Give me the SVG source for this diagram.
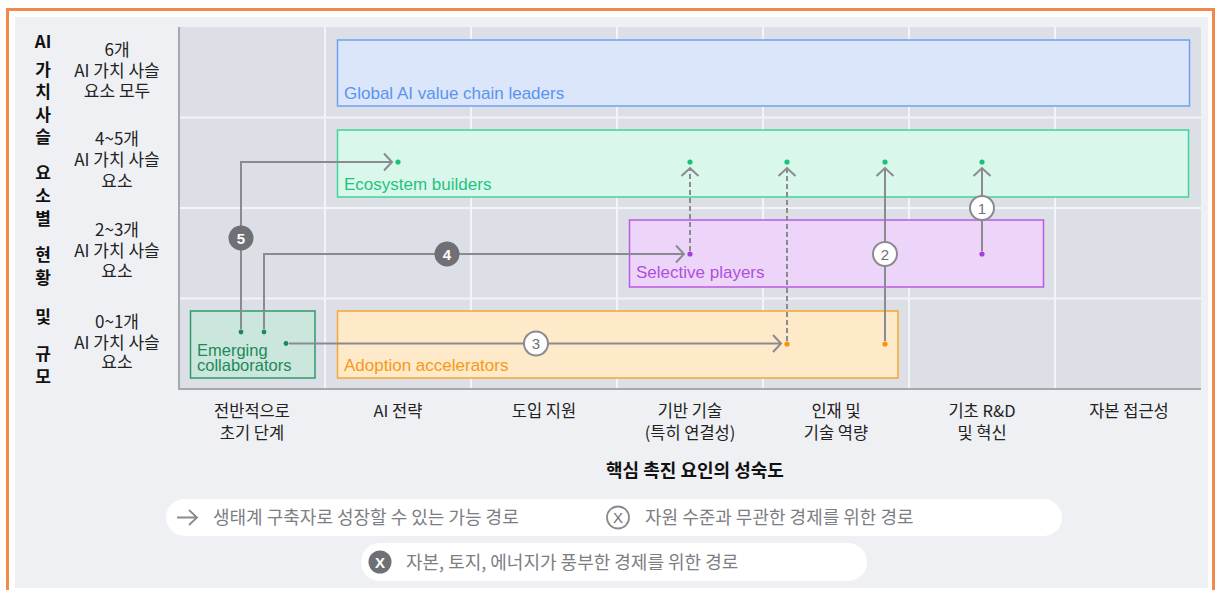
<svg xmlns="http://www.w3.org/2000/svg" width="1217" height="590" viewBox="0 0 1217 590">
<defs>
<style>
.ttl{font-family:"Noto Sans CJK KR",sans-serif;font-size:17px;font-weight:bold;fill:#111;text-anchor:middle;}
.rowl{font-family:"Noto Sans CJK KR",sans-serif;font-size:17px;fill:#222;text-anchor:middle;}
.coll{font-family:"Noto Sans CJK KR",sans-serif;font-size:16.5px;fill:#222;text-anchor:middle;}
.axt{font-family:"Noto Sans CJK KR",sans-serif;font-size:18px;font-weight:bold;fill:#111;text-anchor:middle;}
.leg{font-family:"Noto Sans CJK KR",sans-serif;font-size:18px;fill:#7d7e84;}
.bl{font-family:"Liberation Sans",Arial,sans-serif;font-size:17px;}
.grid{stroke:#f3f4f7;stroke-width:2;}
.con{fill:none;stroke:#8a8b90;stroke-width:2;}
.dash{stroke-dasharray:5 3;}
.bw{fill:#fff;stroke:#8a8b90;stroke-width:2;}
.bd{fill:#6f7076;}
.bn{font-family:"Liberation Sans",Arial,sans-serif;font-size:15px;text-anchor:middle;}
</style>
<marker id="chev" markerUnits="userSpaceOnUse" markerWidth="14" markerHeight="20" viewBox="0 0 14 20" refX="9" refY="10" orient="auto">
<path d="M1,1.5 L9,10 L1,18.5" fill="none" stroke="#8a8b90" stroke-width="2"/>
</marker>
</defs>

<!-- background -->
<rect x="0" y="0" width="1217" height="590" fill="#ffffff"/>
<path d="M7.5,600 L7.5,9.5 L1213.5,9.5 L1213.5,600" fill="none" stroke="#f08a4b" stroke-width="3"/>
<rect x="15" y="17" width="1193" height="571" fill="#eff0f4"/>

<!-- plot area -->
<g id="plot">
<rect x="179" y="27" width="1022" height="362" fill="#dcdfe6"/>
<line class="grid" x1="325" y1="27" x2="325" y2="389"/>
<line class="grid" x1="471" y1="27" x2="471" y2="389"/>
<line class="grid" x1="617" y1="27" x2="617" y2="389"/>
<line class="grid" x1="763" y1="27" x2="763" y2="389"/>
<line class="grid" x1="909" y1="27" x2="909" y2="389"/>
<line class="grid" x1="1055" y1="27" x2="1055" y2="389"/>
<line class="grid" x1="179" y1="117.5" x2="1201" y2="117.5"/>
<line class="grid" x1="179" y1="208" x2="1201" y2="208"/>
<line class="grid" x1="179" y1="298.5" x2="1201" y2="298.5"/>
<path d="M179,27 L179,389 L1201,389" fill="none" stroke="#a6a8ae" stroke-width="2"/>
</g>

<!-- title -->
<g id="y-title">
<text class="ttl" x="43" y="48">AI</text>
<text class="ttl" x="43" y="76">가</text>
<text class="ttl" x="43" y="98">치</text>
<text class="ttl" x="43" y="121">사</text>
<text class="ttl" x="43" y="143">슬</text>
<text class="ttl" x="43" y="179">요</text>
<text class="ttl" x="43" y="202">소</text>
<text class="ttl" x="43" y="225">별</text>
<text class="ttl" x="43" y="261">현</text>
<text class="ttl" x="43" y="284">황</text>
<text class="ttl" x="43" y="323">및</text>
<text class="ttl" x="43" y="360">규</text>
<text class="ttl" x="43" y="383">모</text>
</g>

<g id="row-labels">
<text class="rowl" x="117" y="56">6개</text>
<text class="rowl" x="117" y="77">AI 가치 사슬</text>
<text class="rowl" x="117" y="97">요소 모두</text>
<text class="rowl" x="117" y="145">4~5개</text>
<text class="rowl" x="117" y="166">AI 가치 사슬</text>
<text class="rowl" x="117" y="187">요소</text>
<text class="rowl" x="117" y="236">2~3개</text>
<text class="rowl" x="117" y="257">AI 가치 사슬</text>
<text class="rowl" x="117" y="277">요소</text>
<text class="rowl" x="117" y="328">0~1개</text>
<text class="rowl" x="117" y="349">AI 가치 사슬</text>
<text class="rowl" x="117" y="368">요소</text>
</g>

<g id="col-labels">
<text class="coll" x="252" y="417">전반적으로</text>
<text class="coll" x="252" y="439">초기 단계</text>
<text class="coll" x="398" y="417">AI 전략</text>
<text class="coll" x="544" y="417">도입 지원</text>
<text class="coll" x="690" y="417">기반 기술</text>
<text class="coll" x="690" y="439">(특히 연결성)</text>
<text class="coll" x="836" y="417">인재 및</text>
<text class="coll" x="836" y="439">기술 역량</text>
<text class="coll" x="982" y="417">기초 R&amp;D</text>
<text class="coll" x="982" y="439">및 혁신</text>
<text class="coll" x="1129" y="417">자본 접근성</text>
</g>

<text id="x-title" class="axt" x="695" y="477">핵심 촉진 요인의 성숙도</text>

<!-- nodes -->
<g id="global-leaders">
<rect x="337.5" y="40" width="852" height="66" fill="#dbe6fb" stroke="#6fa1f0" stroke-width="1.5"/>
<text class="bl" x="344" y="99" fill="#5a93ee">Global AI value chain leaders</text>
</g>
<g id="ecosystem-builders">
<rect x="337.5" y="130" width="851" height="67" fill="#daf7ec" stroke="#3fd69a" stroke-width="1.5"/>
<text class="bl" x="344" y="190" fill="#1ec47f">Ecosystem builders</text>
<circle cx="398" cy="162" r="2.6" fill="#17c47c"/>
<circle cx="690" cy="162" r="2.6" fill="#17c47c"/>
<circle cx="787" cy="162" r="2.6" fill="#17c47c"/>
<circle cx="885" cy="162" r="2.6" fill="#17c47c"/>
<circle cx="982" cy="162" r="2.6" fill="#17c47c"/>
</g>
<g id="selective-players">
<rect x="629.5" y="220" width="414" height="67" fill="#ecd5f8" stroke="#bb58e7" stroke-width="1.5"/>
<text class="bl" x="636" y="278" fill="#b04fe0">Selective players</text>
<circle cx="690" cy="254" r="2.6" fill="#a83ddc"/>
<circle cx="982" cy="254" r="2.6" fill="#a83ddc"/>
</g>
<g id="adoption-accelerators">
<rect x="337.5" y="311" width="560.5" height="67" fill="#fee9c9" stroke="#f5a732" stroke-width="1.5"/>
<text class="bl" x="344" y="371" fill="#f59a18">Adoption accelerators</text>
<circle cx="787" cy="344" r="2.6" fill="#f5940d"/>
<circle cx="885" cy="344" r="2.6" fill="#f5940d"/>
</g>
<g id="emerging-collaborators">
<rect x="190.5" y="311" width="124.5" height="67" fill="#cbe6dc" stroke="#2e9a6b" stroke-width="1.5"/>
<text class="bl" x="197" y="356" fill="#1b8a5a" style="font-size:16.5px">Emerging</text>
<text class="bl" x="197" y="371" fill="#1b8a5a" style="font-size:16.5px">collaborators</text>
<circle cx="241" cy="332" r="2.4" fill="#1b8a5a"/>
<circle cx="264" cy="332" r="2.4" fill="#1b8a5a"/>
<circle cx="286" cy="343.5" r="2.4" fill="#1b8a5a"/>
</g>

<!-- connectors -->
<g id="connectors">
<path class="con" d="M241,329 L241,162 L392,162" marker-end="url(#chev)"/>
<path class="con" d="M264,329 L264,254 L684,254" marker-end="url(#chev)"/>
<path class="con" d="M289,343.5 L781,343.5" marker-end="url(#chev)"/>
<path class="con dash" d="M690,251 L690,168" marker-end="url(#chev)"/>
<path class="con dash" d="M787,341 L787,168" marker-end="url(#chev)"/>
<path class="con" d="M885,341 L885,168" marker-end="url(#chev)"/>
<path class="con" d="M982,251 L982,168" marker-end="url(#chev)"/>
<g id="badge-5"><circle class="bd" cx="241" cy="238" r="12.5"/><text class="bn" x="241" y="243.5" fill="#fff" font-weight="bold">5</text></g>
<g id="badge-4"><circle class="bd" cx="447" cy="254" r="12.5"/><text class="bn" x="447" y="259.5" fill="#fff" font-weight="bold">4</text></g>
<g id="badge-3"><circle class="bw" cx="536" cy="343.5" r="12"/><text class="bn" x="536" y="349" fill="#6f7076">3</text></g>
<g id="badge-2"><circle class="bw" cx="885" cy="254" r="12"/><text class="bn" x="885" y="259.5" fill="#6f7076">2</text></g>
<g id="badge-1"><circle class="bw" cx="982" cy="208" r="12"/><text class="bn" x="982" y="213.5" fill="#6f7076">1</text></g>
</g>

<!-- legend -->
<g id="legend">
<rect x="166" y="499" width="896" height="37" rx="18.5" fill="#ffffff"/>
<rect x="361" y="543" width="506" height="38" rx="19" fill="#ffffff"/>
<g id="legend-arrow">
<path d="M177,517.5 L197,517.5 M189,510 L197,517.5 L189,525" fill="none" stroke="#8a8b90" stroke-width="1.8"/>
<text class="leg" x="213" y="524">생태계 구축자로 성장할 수 있는 가능 경로</text>
</g>
<g id="legend-white">
<circle cx="618" cy="517.5" r="11" fill="#fff" stroke="#8a8b90" stroke-width="1.8"/>
<text class="bn" x="618" y="523" fill="#6f7076">X</text>
<text class="leg" x="645" y="524">자원 수준과 무관한 경제를 위한 경로</text>
</g>
<g id="legend-dark">
<circle cx="380" cy="562" r="11.5" fill="#6f7076"/>
<text class="bn" x="380" y="567.5" fill="#fff" font-weight="bold">X</text>
<text class="leg" x="406" y="568.5">자본, 토지, 에너지가 풍부한 경제를 위한 경로</text>
</g>
</g>
</svg>
